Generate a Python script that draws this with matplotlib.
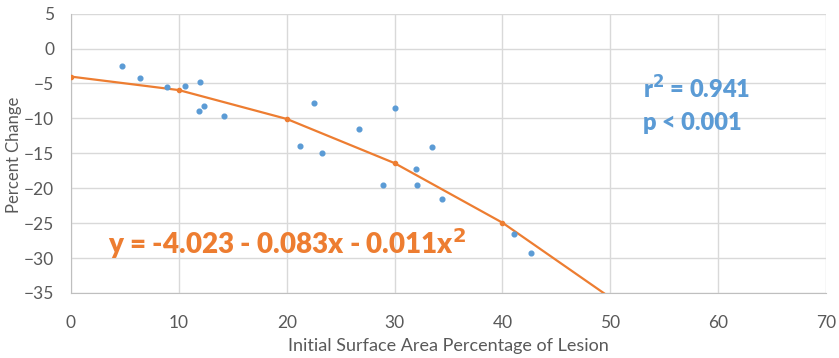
import matplotlib.pyplot as plt

plt.rcParams['font.family'] = ['Lato', 'DejaVu Sans']

# measured points
area = [4.7, 6.4, 8.9, 10.6, 12.0, 11.9, 12.3, 14.2, 22.5, 30.0, 21.2, 23.3,
        26.7, 33.5, 32.0, 28.9, 32.1, 34.4, 41.1, 42.6]
change = [-2.55, -4.2, -5.5, -5.3, -4.8, -9.0, -8.3, -9.6, -7.8, -8.5, -13.9, -15.0,
          -11.5, -14.1, -17.3, -19.5, -19.5, -21.6, -26.5, -29.3]

# fitted curve, read at every 10
fit_x = [0, 10, 20, 30, 40, 50]
fit_y = [-4.02, -5.95, -10.08, -16.41, -24.94, -35.67]

blue = '#5B9BD5'
orange = '#ED7D31'
grey = '#595959'

fig = plt.figure(figsize=(8.39, 3.58), dpi=100)
ax = fig.add_axes([0.0846, 0.1816, 0.9, 0.7804])

ax.grid(True, color='#D9D9D9', linewidth=1)
ax.set_axisbelow(True)
ax.plot(fit_x, fit_y, color=orange, linewidth=1.6, marker='o', markersize=3, zorder=3)
ax.plot(area, change, linestyle='none', marker='o', markersize=3.4, color=blue, zorder=4)

ax.set_xlim(0, 70)
ax.set_ylim(-35, 5)
ax.set_xticks(range(0, 71, 10))
ax.set_yticks(range(-35, 6, 5))
for s in ['top', 'right']:
    ax.spines[s].set_visible(False)
for s in ['left', 'bottom']:
    ax.spines[s].set_color('#BFBFBF')
ax.tick_params(length=0, labelsize=12.5, colors=grey)
ax.tick_params(axis='y', pad=12)
ax.tick_params(axis='x', pad=16)

ax.set_xlabel('Initial Surface Area Percentage of Lesion', fontsize=13, color=grey, labelpad=5)
fig.text(14 / 839, 1 - 155 / 358, 'Percent Change', fontsize=12, color=grey,
         rotation=90, ha='center', va='center')

ax.text(3.4, -27.9, 'y = -4.023 - 0.083x - 0.011x$^{\\mathbf{2}}$', color=orange,
        fontsize=20, fontweight='heavy', va='center', ha='left')
ax.text(53, -5.8, 'r$^{\\mathbf{2}}$ = 0.941', color=blue, fontsize=17,
        fontweight='heavy', va='center', ha='left')
ax.text(53, -10.7, 'p < 0.001', color=blue, fontsize=17,
        fontweight='heavy', va='center', ha='left')

fig.savefig('out.png', dpi=100)
